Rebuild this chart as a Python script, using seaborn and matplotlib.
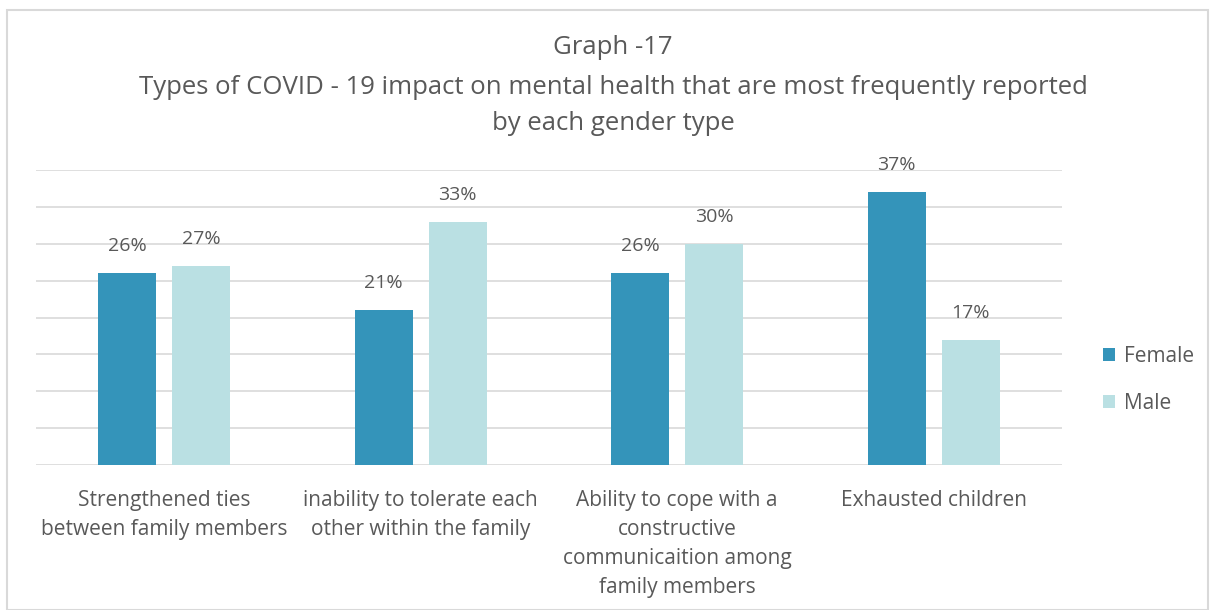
import matplotlib
matplotlib.use("Agg")
import matplotlib.pyplot as plt
import seaborn as sns
import pandas as pd
from matplotlib.patches import Patch

categories = [
    "Strengthened ties\nbetween family members",
    "inability to tolerate each\nother within the family",
    "Ability to cope with a\nconstructive\ncommunicaition among\nfamily members",
    "Exhausted children",
]
female = [26, 21, 26, 37]
male = [27, 33, 30, 17]
series = ["Female", "Male"]
colors = ["#3494BA", "#BAE0E3"]

df = pd.DataFrame({
    "category": categories * 2,
    "gender": ["Female"] * 4 + ["Male"] * 4,
    "value": female + male,
})

sns.set_theme(style="white")
plt.rcParams["font.family"] = ["Open Sans", "DejaVu Sans"]
txt = "#595959"

fig = plt.figure(figsize=(12.15, 6.1), dpi=100)
ax = fig.add_axes([36/1215, 1-465/610, (1062-36)/1215, (465-170)/610])

sns.barplot(data=df, x="category", y="value", hue="gender", palette=colors,
            width=0.577, gap=0.22, ax=ax, legend=False, saturation=1, linewidth=0,
            edgecolor="none")

ax.set_ylim(0, 40)
ax.set_yticks(range(0, 41, 5))
ax.yaxis.grid(True, color="#D9D9D9", linewidth=1.2)
ax.set_axisbelow(True)
ax.tick_params(axis="y", left=False, labelleft=False)
ax.tick_params(axis="x", bottom=False, labelsize=15, labelcolor=txt, pad=12)
for s in ax.spines.values():
    s.set_visible(False)
ax.set_xlabel("")
ax.set_ylabel("")
for lbl in ax.get_xticklabels():
    lbl.set_linespacing(1.5)

for cont in ax.containers:
    ax.bar_label(cont, labels=[f"{v:.0f}%" for v in cont.datavalues],
                 padding=13, fontsize=14, color=txt)

cx = 613 / 1215
fig.text(cx, 1-48/610, "Graph -17", ha="center", va="center", fontsize=18.5, color=txt)
fig.text(cx, 1-87/610, "Types of COVID - 19 impact on mental health that are most frequently reported",
         ha="center", va="center", fontsize=18.5, color=txt)
fig.text(cx, 1-124/610, "by each gender type", ha="center", va="center", fontsize=18.5, color=txt)

handles = [Patch(facecolor=c, edgecolor="none") for c in colors]
leg = fig.legend(handles, series, loc="center left", bbox_to_anchor=(1084/1215, 1-380/610),
                 frameon=False, fontsize=15, labelcolor=txt, handlelength=0.6, handleheight=0.6,
                 handletextpad=0.4, labelspacing=1.25)

border = plt.Rectangle((7/1215, 0), 1 - 14/1215, 1 - 10/610, transform=fig.transFigure,
                       fill=False, edgecolor="#D9D9D9", linewidth=1.5)
fig.add_artist(border)

fig.savefig("out.png", dpi=100, facecolor="white")
